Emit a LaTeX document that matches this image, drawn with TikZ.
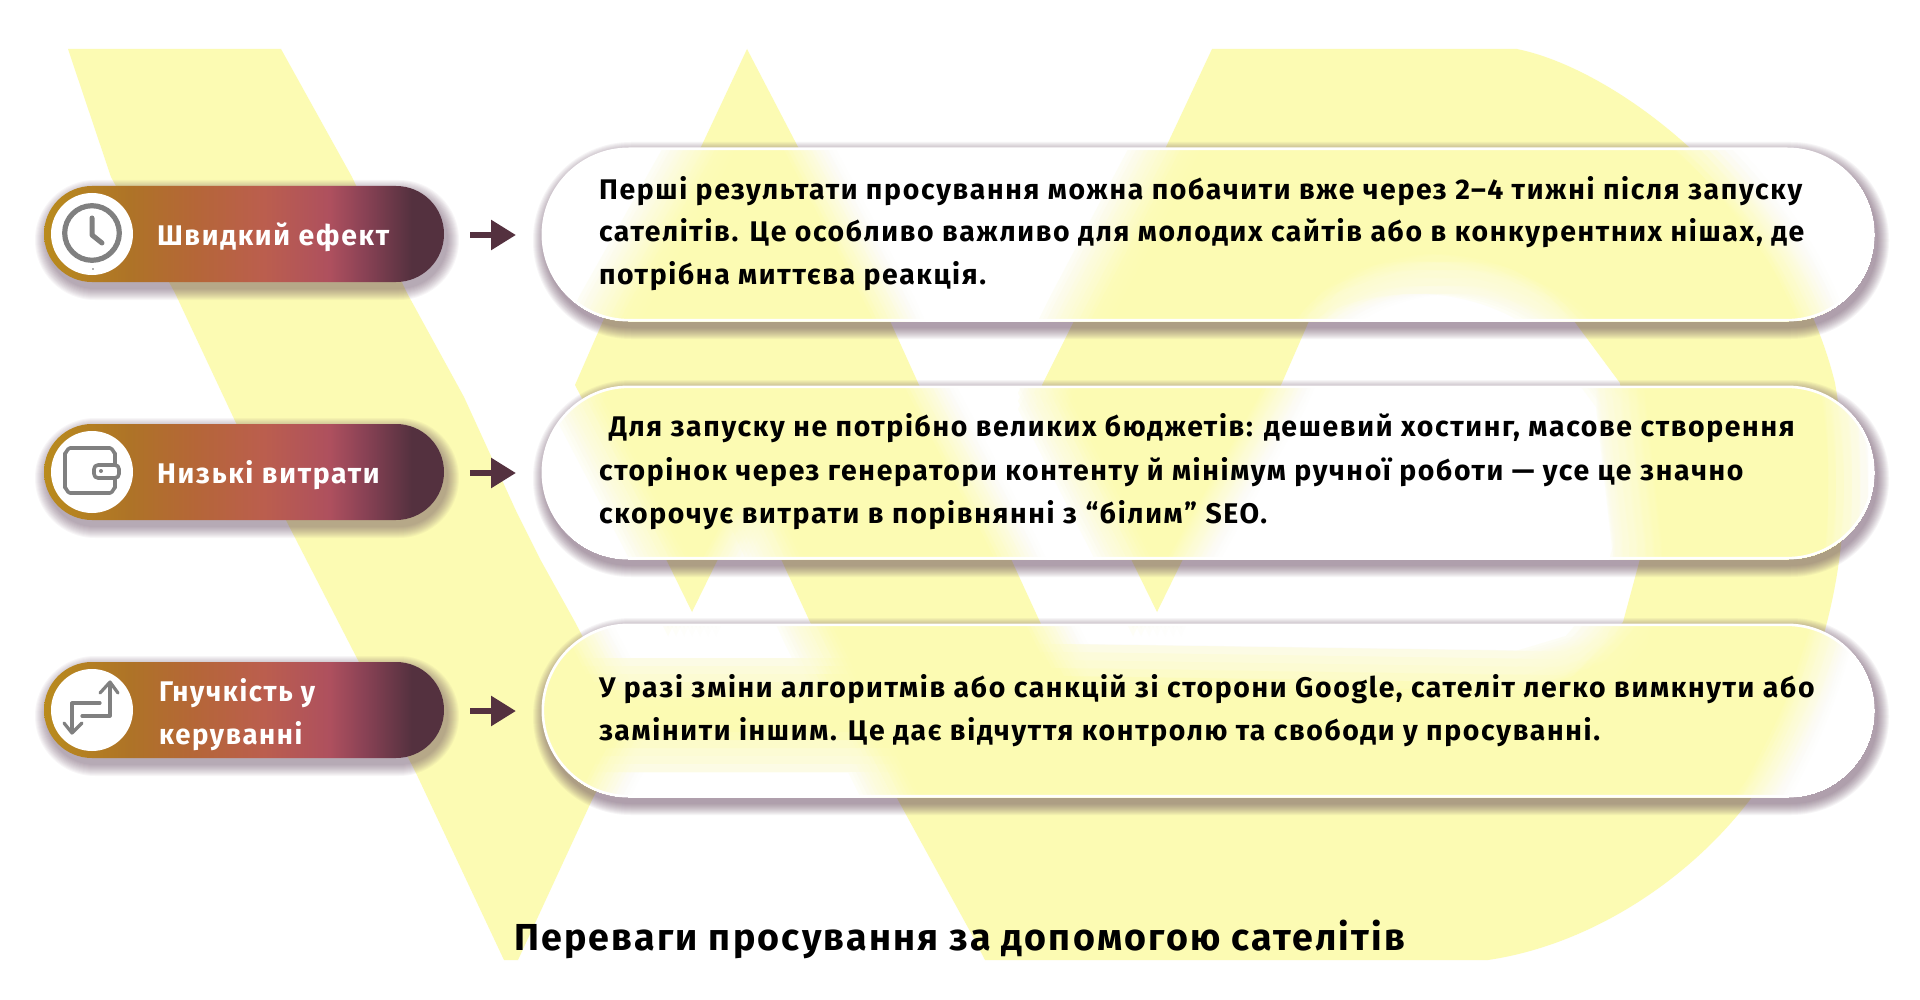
\documentclass[tikz,border=0pt]{standalone}
\usepackage{fontspec}
\usetikzlibrary{arrows.meta}
\setmainfont{Fira Sans}[BoldFont={Fira Sans Bold},LetterSpace=5.8]
\definecolor{wmy}{HTML}{FCFBB3}
\definecolor{plum}{HTML}{54313F}
\definecolor{shad}{HTML}{5C3C56}
\definecolor{icong}{HTML}{808080}
\definecolor{pga}{HTML}{B98B1D}
\definecolor{pgb}{HTML}{AE7327}
\definecolor{pgc}{HTML}{B56638}
\definecolor{pgd}{HTML}{BB5E4E}
\definecolor{pge}{HTML}{AE505E}
\definecolor{pgf}{HTML}{8A4255}
\pgfdeclarehorizontalshading{pillgrad}{100bp}{
 color(0bp)=(pga);
 color(25bp)=(pga);
 color(35.7bp)=(pgb);
 color(44bp)=(pgc);
 color(52.5bp)=(pgd);
 color(60.7bp)=(pge);
 color(65bp)=(pgf);
 color(71bp)=(plum);
 color(75bp)=(plum);
 color(100bp)=(plum)}
\newcommand{\wmshapes}{%
 \fill[wmy] (68,49)--(281,49)--(352,177)--(407,293)--(464,397)--(517,513)--(540,559)--(575,622)--(630,727)--(592,800)--(518,960)--(504,960)--(416,773)--(236,423)--(175,293)--(111,177)--cycle;
 \fill[wmy] (747,49)--(798,147)--(890,321)--(919,385)--(1011,559)--(1040,622)--(1064,668)--(1540,675)--(1590,660)--(1623,622)--(1640,559)--(1620,383)--(1574,321) .. controls (1510,255) and (1370,250) .. (1309,321)--(1281,385)--(1183,559)--(1157,612)--(1131,559)--(1042,385)--(1074,321)--(1166,147)--(1212,49)--(1517,49) .. controls (1620,70) and (1790,200) .. (1835,383) .. controls (1850,470) and (1860,620) .. (1752,797) .. controls (1690,880) and (1590,945) .. (1488,960)--(985,960)--(971,933)--(898,800)--(872,748)--(615,748)--(607,682)--(840,682)--(810,622)--(781,559)--(752,497)--(718,559)--(692,612)--(666,559)--(575,385)--(603,321)--(701,147)--cycle;
}
\newcount\blurk
\newcommand{\softshadow}[6]{%
 \foreach \i in {1,...,12}{
  \fill[shad,opacity=#6,rounded corners={#5+0.5pt*\i}] ({#1+3-\i},{#2+6-\i}) rectangle ({#3+3+\i},{#4+6+\i});
 }
}
\newcommand{\glasscard}[4]{%
 \softshadow{#1}{#2}{#3}{#4}{43pt}{0.05}
 \begin{scope}
  \clip[rounded corners=43pt] (#1,#2) rectangle (#3,#4);
  \global\blurk=0
  \foreach \dx in {-24,-16,...,24}{
   \foreach \dy in {-24,-16,...,24}{
    \global\advance\blurk by 1
    \pgfmathsetmacro\layerop{1/\the\blurk}
    \begin{scope}[transparency group,opacity=\layerop,shift={(\dx,\dy)}]
     \fill[white] (0,0) rectangle (1920,1000);
     \wmshapes
    \end{scope}
   }
  }
 \end{scope}
 \draw[white,line width=1.3pt,rounded corners=43pt] (#1+0.8,#2+0.8) rectangle (#3-0.8,#4-0.8);
}
\newcommand{\pill}[1]{%
 \softshadow{44}{#1}{444}{#1+96}{24pt}{0.045}
 \shade[shading=pillgrad,rounded corners=24pt] (44,#1) rectangle (444,#1+96);
 \fill[white] (92,#1+48) circle[radius=41];
}
\tikzset{
 body/.style={anchor=base west,inner sep=0pt,outer sep=0pt,black,font=\fontsize{14.2}{20}\selectfont\bfseries},
 pilltext/.style={anchor=base west,inner sep=0pt,outer sep=0pt,white,font=\fontsize{14.2}{20}\selectfont\bfseries},
 headline/.style={anchor=base west,inner sep=0pt,outer sep=0pt,black,font=\fontsize{18.8}{24}\selectfont\bfseries},
 blockarrow/.style={plum,line width=3.3pt,-{Triangle[length=12.5pt,width=14.4pt]}},
 iconline/.style={icong,line width=1.8pt,line cap=round,line join=round},
}
\begin{document}
\begin{tikzpicture}[x=0.5pt,y=-0.5pt]
\useasboundingbox (0,0) rectangle (1920,1000);
\fill[white] (0,0) rectangle (1920,1000);
\wmshapes

% left pills
\pill{186}
\pill{424}
\pill{662}

% clock icon
\draw[icong,line width=2.6pt] (92,233) circle[radius=27.3];
\draw[iconline,line width=2.5pt] (92,218)--(92,235)--(102,243);
\fill[black!60] (93,269) circle[radius=0.8];

% wallet icon
\draw[iconline] (115,465)--(115,453) to[out=-90,in=0] (110,448)--(70,448) to[out=180,in=-90] (65,453)--(65,488) to[out=90,in=180] (70,493)--(110,493) to[out=0,in=90] (115,488)--(115,478);
\draw[iconline,rounded corners=2pt] (94,465) rectangle (119,478);
\fill[icong] (101,471) circle[radius=2];

% arrows icon
\draw[iconline,line width=1.6pt] (82,716)--(110,716)--(110,684);
\draw[iconline,line width=1.6pt] (100,693)--(110,682)--(118,693);
\draw[iconline,line width=1.6pt] (100,703)--(72,703)--(72,731);
\draw[iconline,line width=1.6pt] (64,723)--(72,733)--(82,723);

% cards
\glasscard{542}{148}{1874}{321}
\glasscard{542}{386}{1874}{559}
\glasscard{542}{624}{1874}{797}

% pill labels
\node[pilltext] (la) at (157,245) {Швидкий ефект};
\node[pilltext] (lb) at (157,483.5) {Низькі витрати};
\node[pilltext,xscale=0.97] (lc) at (159,701) {Гнучкість у};
\node[pilltext,xscale=0.97] (ld) at (159,744.5) {керуванні};

% connectors
\coordinate (a1s) at (470,235); \coordinate (a1e) at (516,235);
\coordinate (a2s) at (470,473); \coordinate (a2e) at (516,473);
\coordinate (a3s) at (470,711); \coordinate (a3e) at (516,711);
\draw[blockarrow] (a1s)--(a1e);
\draw[blockarrow] (a2s)--(a2e);
\draw[blockarrow] (a3s)--(a3e);

% body
\node[body] (t11) at (599,199) {Перші результати просування можна побачити вже через 2–4 тижні після запуску};
\node[body] (t12) at (599,242) {сателітів. Це особливо важливо для молодих сайтів або в конкурентних нішах, де};
\node[body] (t13) at (599,285) {потрібна миттєва реакція.};
\node[body] (t21) at (609,436) {Для запуску не потрібно великих бюджетів: дешевий хостинг, масове створення};
\node[body] (t22) at (599,480) {сторінок через генератори контенту й мінімум ручної роботи — усе це значно};
\node[body] (t23) at (599,523) {скорочує витрати в порівнянні з “білим” SEO.};
\node[body] (t31) at (599,697.5) {У разі зміни алгоритмів або санкцій зі сторони Google, сателіт легко вимкнути або};
\node[body] (t32) at (599,740.5) {замінити іншим. Це дає відчуття контролю та свободи у просуванні.};
\node[headline] (title) at (514,950) {Переваги просування за допомогою сателітів};
\end{tikzpicture}
\end{document}
